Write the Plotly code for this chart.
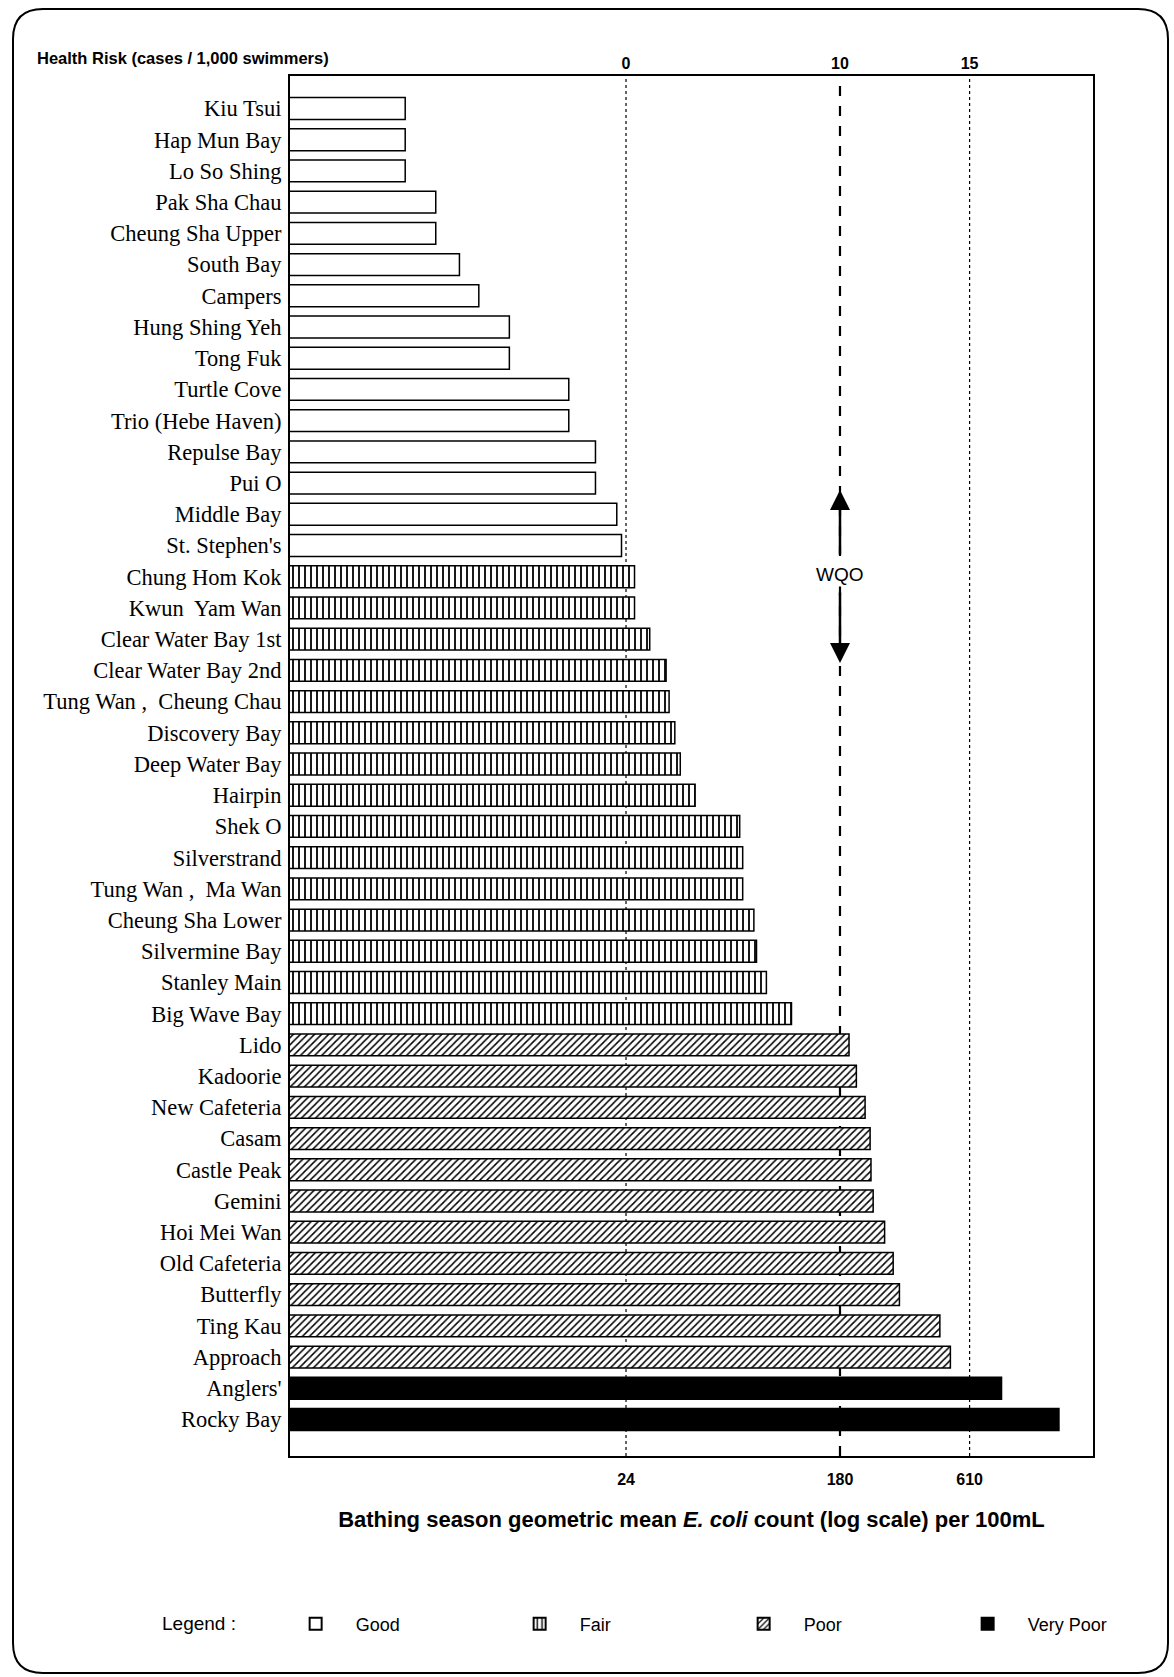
import math
import plotly.graph_objects as go

# ---------------- data ----------------
sites = [
    "Kiu Tsui", "Hap Mun Bay", "Lo So Shing", "Pak Sha Chau", "Cheung Sha Upper",
    "South Bay", "Campers", "Hung Shing Yeh", "Tong Fuk", "Turtle Cove",
    "Trio (Hebe Haven)", "Repulse Bay", "Pui O", "Middle Bay", "St. Stephen's",
    "Chung Hom Kok", "Kwun  Yam Wan", "Clear Water Bay 1st", "Clear Water Bay 2nd",
    "Tung Wan ,  Cheung Chau", "Discovery Bay", "Deep Water Bay", "Hairpin", "Shek O",
    "Silverstrand", "Tung Wan ,  Ma Wan", "Cheung Sha Lower", "Silvermine Bay",
    "Stanley Main", "Big Wave Bay", "Lido", "Kadoorie", "New Cafeteria", "Casam",
    "Castle Peak", "Gemini", "Hoi Mei Wan", "Old Cafeteria", "Butterfly", "Ting Kau",
    "Approach", "Anglers'", "Rocky Bay",
]
ecoli = [
    3, 3, 3, 4, 4,
    5, 6, 8, 8, 14,
    14, 18, 18, 22, 23,
    26, 26, 30, 35,
    36, 38, 40, 46, 70,
    72, 72, 80, 82,
    90, 114, 196, 210, 228, 239,
    241, 246, 274, 297, 315, 461,
    509, 824, 1415,
]
grades = (["Good"] * 15) + (["Fair"] * 15) + (["Poor"] * 11) + (["Very Poor"] * 2)

grade_names = ["Good", "Fair", "Poor", "Very Poor"]
ref_counts = [24, 180, 610]          # E. coli reference values (bottom axis)
risk_labels = ["0", "10", "15"]      # health risk at those counts (top axis)
wqo_count = 180

# ---------------- styling ----------------
styles = {
    "Good": dict(color="white", pattern=dict(shape="")),
    "Fair": dict(color="white", pattern=dict(shape="|", fgcolor="black", bgcolor="white",
                                             size=6, solidity=0.3, fillmode="replace")),
    "Poor": dict(color="white", pattern=dict(shape="/", fgcolor="black", bgcolor="white",
                                             size=5, solidity=0.3, fillmode="replace")),
    "Very Poor": dict(color="black", pattern=dict(shape="")),
}

W, H = 1174, 1677
ML, MR, MT, MB = 290, 81, 76, 221
PW, PH = W - ML - MR, H - MT - MB

SANS = "Liberation Sans, Arial, sans-serif"
SERIF = "Liberation Serif, Times New Roman, serif"

def px2paper_x(px):
    return (px - ML) / PW

def px2paper_y(py):
    return (H - MB - py) / PH

fig = go.Figure()

for g in grade_names:
    xs = [v for v, gg in zip(ecoli, grades) if gg == g]
    ys = [s for s, gg in zip(sites, grades) if gg == g]
    st = styles[g]
    fig.add_trace(go.Bar(
        x=xs, y=ys, orientation="h", name=g,
        marker=dict(color=st["color"], pattern=st["pattern"],
                    line=dict(color="black", width=1.5)),
        hoverinfo="x+y",
    ))

# invisible trace to carry the top (health-risk) axis
fig.add_trace(go.Scatter(x=[ref_counts[0]], y=[sites[0]], xaxis="x2", mode="markers",
                         marker=dict(opacity=0), showlegend=False, hoverinfo="skip"))

xrange = [0.006, 3.29]
n = len(sites)

fig.update_layout(
    width=W, height=H,
    margin=dict(l=ML, r=MR, t=MT, b=MB),
    paper_bgcolor="white", plot_bgcolor="white",
    barmode="overlay", bargap=0.30,
    font=dict(family=SANS, color="black"),
    xaxis=dict(
        type="log", range=xrange,
        tickmode="array", tickvals=ref_counts, ticktext=["<b>%d</b>" % v for v in ref_counts],
        tickfont=dict(family=SANS, size=16, color="black"),
        ticks="", showgrid=False, zeroline=False,
        showline=True, linecolor="black", linewidth=2, mirror=True,
        ticklabelstandoff=8,
        title=dict(text="<b>Bathing season geometric mean <i>E. coli</i> count (log scale) per 100mL</b>",
                   font=dict(family=SANS, size=22, color="black"),
                   standoff=24),
    ),
    xaxis2=dict(
        type="log", range=xrange, overlaying="x", side="top",
        tickmode="array", tickvals=ref_counts, ticktext=["<b>%s</b>" % t for t in risk_labels],
        tickfont=dict(family=SANS, size=16, color="black"),
        ticks="", showgrid=False, zeroline=False, showline=False,
        ticklabelstandoff=3,
    ),
    yaxis=dict(
        type="category", categoryorder="array", categoryarray=sites,
        range=[n - 1 + 1.17, -1.041],
        tickfont=dict(family=SERIF, size=22.5, color="black"),
        ticks="", showgrid=False, zeroline=False,
        showline=True, linecolor="black", linewidth=2, mirror=True,
        ticklabelstandoff=2,
    ),
    legend=dict(
        orientation="h", x=px2paper_x(160), xanchor="left",
        y=px2paper_y(1624), yanchor="middle",
        entrywidth=139, entrywidthmode="pixels",
        bgcolor="rgba(0,0,0,0)",
        title=dict(text="Legend :      ", side="left",
                   font=dict(family=SANS, size=19, color="black")),
        font=dict(family=SANS, size=18, color="black"),
        traceorder="normal", itemsizing="constant", itemwidth=70,
    ),
    showlegend=True,
)

# reference lines (health-risk thresholds and WQO)
line_styles = [dict(dash="dot", width=1.2), dict(dash="10px,10px", width=2.2), dict(dash="dot", width=1.2)]
for v, ls in zip(ref_counts, line_styles):
    fig.add_shape(type="line", xref="x", yref="paper", x0=v, x1=v, y0=0, y1=1,
                  line=dict(color="black", **ls), layer="below")

# rounded page border
x0, x1 = px2paper_x(13), px2paper_x(1168)
y0, y1 = px2paper_y(1673), px2paper_y(9)
rx, ry = 30 / PW, 30 / PH
path = (f"M {x0+rx},{y1} L {x1-rx},{y1} Q {x1},{y1} {x1},{y1-ry} "
        f"L {x1},{y0+ry} Q {x1},{y0} {x1-rx},{y0} "
        f"L {x0+rx},{y0} Q {x0},{y0} {x0},{y0+ry} "
        f"L {x0},{y1-ry} Q {x0},{y1} {x0+rx},{y1} Z")
fig.add_shape(type="path", xref="paper", yref="paper", path=path,
              line=dict(color="black", width=2))

# annotations
fig.add_annotation(text="<b>Health Risk (cases / 1,000 swimmers)</b>", xref="paper", yref="paper",
                   x=px2paper_x(35), y=px2paper_y(58), xanchor="left", yanchor="middle",
                   showarrow=False, font=dict(family=SANS, size=16.5, color="black"))

wx = math.log10(wqo_count)
fig.add_annotation(text="WQO", xref="x", yref="paper", x=wx, y=px2paper_y(574),
                   showarrow=False, bgcolor="white",
                   font=dict(family=SANS, size=19, color="black"))
fig.add_annotation(text="", xref="x", yref="paper", x=wx, y=px2paper_y(490),
                   ax=0, ay=66, showarrow=True, arrowhead=2, arrowsize=1.6, arrowwidth=2.5,
                   arrowcolor="black")
fig.add_annotation(text="", xref="x", yref="paper", x=wx, y=px2paper_y(663),
                   ax=0, ay=-72, showarrow=True, arrowhead=2, arrowsize=1.6, arrowwidth=2.5,
                   arrowcolor="black")

fig.write_html("out.html", config={"displayModeBar": False},
               post_script="document.body.style.margin='0';")
